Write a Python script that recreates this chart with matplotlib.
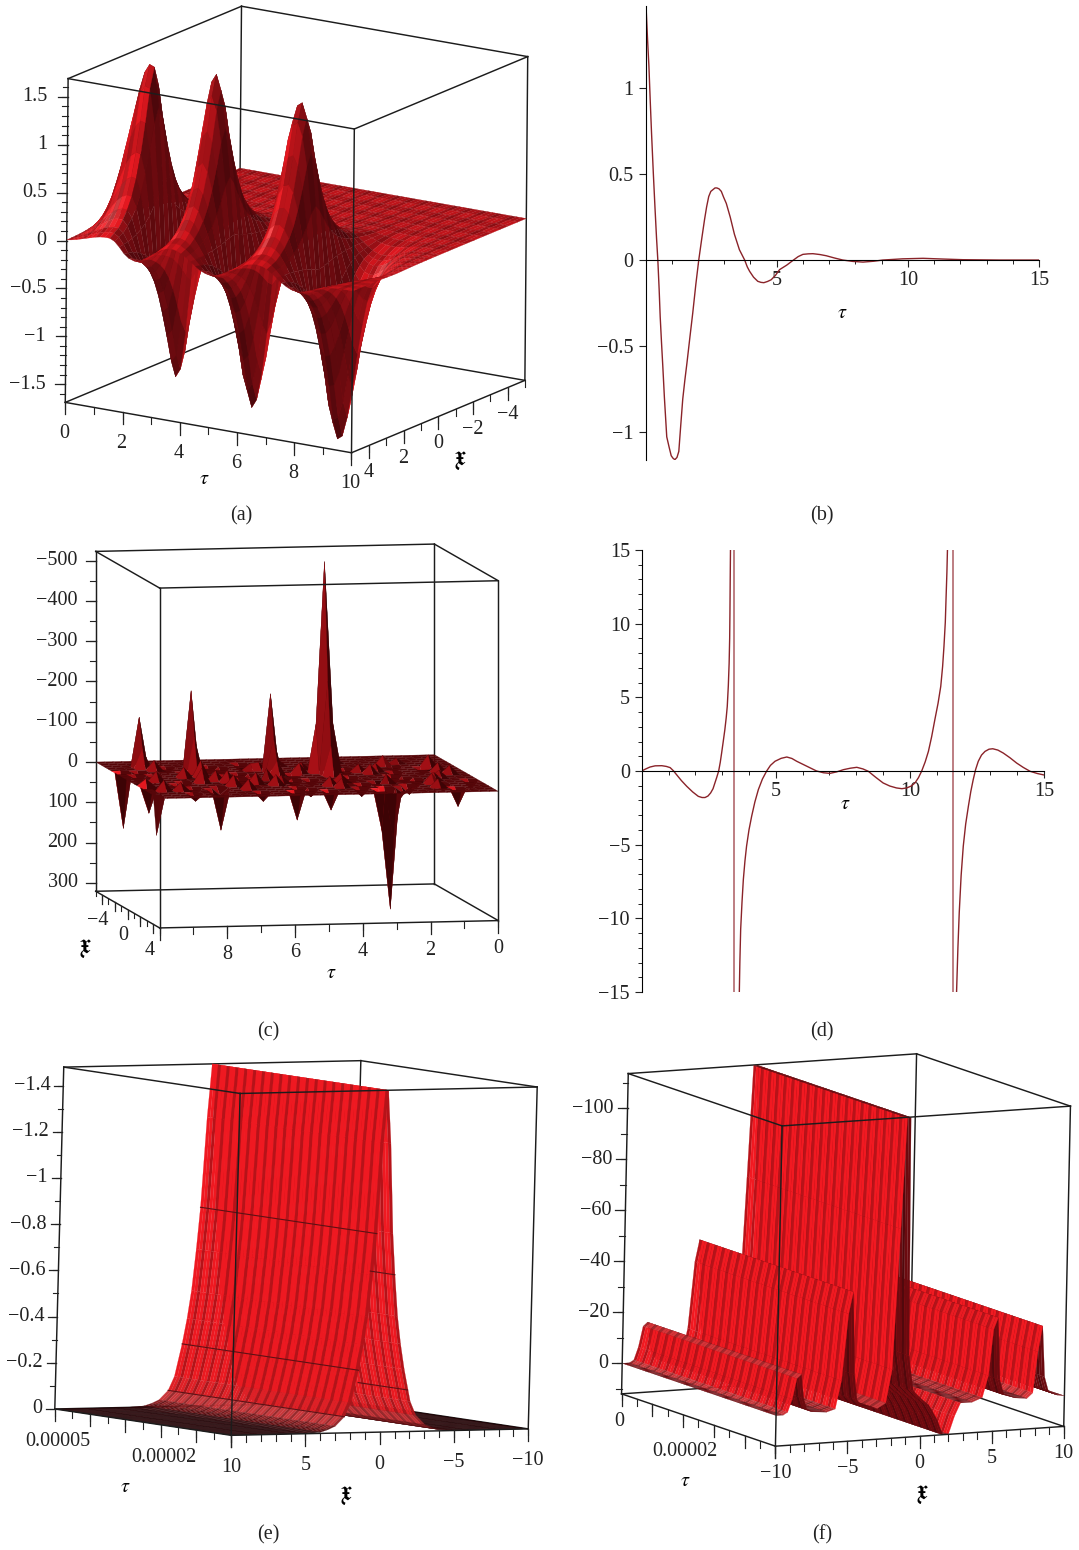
# -*- coding: utf-8 -*-
import numpy as np
import matplotlib
matplotlib.use("Agg")
import matplotlib.pyplot as plt
from mpl_toolkits.mplot3d import proj3d

plt.rcParams['font.family'] = ['Liberation Serif', 'DejaVu Serif']
plt.rcParams['mathtext.fontset'] = 'stix'

W, H = 1079, 1550
RED = np.array([0.95, 0.10, 0.13])
PINK = np.array([1.0, 0.50, 0.50])
CURVE = '#8a2329'
FS = 14.5

# (a) wave height along tau at the ridge (steps of 1/6), falloff across x
a_wave = np.array([.1, .25, .45, .7, .95, 1.2, 1.45, 1.63, 1.72, 1.7, 1.3, .45, -.55, -1.2, -1.49, -1.4, -1.0, -.45,
                   .15, .75, 1.3, 1.65, 1.74, 1.58, 1.2, .7, .1, -.55, -1.15, -1.5, -1.67, -1.58, -1.3, -.87, -.35, .15,
                   .65, 1.05, 1.38, 1.56, 1.6, 1.45, 1.1, .55, -.1, -.75, -1.3, -1.68, -1.84, -1.8, -1.6, -1.28, -.92,
                   -.6, -.35, -.2, -.12, -.07, -.04, -.02, -.01])
a_tau = np.arange(len(a_wave)) / 6
a_x = np.array([-5, -4.5, -4, -3.5, -3, -2.5, -2, -1.5, -1, -.5, 0, .25, .5, .75, 1, 1.25, 1.5, 1.75, 2, 2.25, 2.5,
                2.75, 3, 3.25, 3.5, 3.75, 4, 4.25, 4.5, 4.75, 5])
a_fall = np.array([0, 0, 0, 0, 0, .002, .004, .008, .015, .03, .06, .08, .1, .14, .19, .26, .36, .5, .68, .88, 1,
                   .88, .68, .5, .36, .26, .19, .14, .1, .08, .06])

# (b) curve
b_tau = [.02, .08, .13, .18, .23, .3, .36, .42, .47, .52, .56, .61, .66, .72, .81, .9, .98, 1.05, 1.12, 1.2, 1.27, 1.34,
         1.42, 1.5, 1.58, 1.7, 1.8, 1.92, 2.03, 2.14, 2.25, 2.33, 2.41, 2.49, 2.57, 2.65, 2.72, 2.8, 2.89, 2.98, 3.08,
         3.23, 3.39, 3.58, 3.78, 3.88, 3.97, 4.12, 4.28, 4.4, 4.51, 4.65, 4.79, 4.95, 5.11, 5.38, 5.64, 5.82, 6, 6.2,
         6.38, 6.65, 6.89, 7.2, 7.52, 7.9, 8.29, 8.7, 9.05, 9.8, 10.58, 11.3, 12.1, 13.5, 15]
b_val = [1.48, 1.28, 1.13, .93, .74, .5, .31, .13, 0, -.17, -.33, -.48, -.62, -.8, -1.03, -1.09, -1.14, -1.155, -1.163,
         -1.15, -1.115, -.97, -.81, -.7, -.6, -.44, -.31, -.14, 0, .12, .235, .31, .37, .4, .41, .42, .42, .415, .4,
         .365, .33, .25, .15, .06, 0, -.04, -.066, -.1, -.124, -.13, -.132, -.125, -.115, -.09, -.056, -.03, 0, .02,
         .033, .036, .037, .032, .025, .012, 0, -.008, -.012, -.007, 0, .007, .01, .006, .002, 0, 0]

# (c) spikes on a flat sheet: tau, x, value
c_tau = [9.1, 7.83, 5.5, 4, 4, 4, 3.75, 4.25, 9.7, 9.82, 9.94, 8.66, 7.95, 6.65, 5.74, 4.77, 3.06, 2.67, 1.05, 3.35,
         7.75, 7.75, 5.5, 5.5, 9, 3, 3, 3.25]
c_x = [-3.5, -2, -1.5, -1, -.5, 0, -1, -1, -2, 2, 4.5, 4, 4, 4, 4, 4, 4, 4, 4, 4, -1.5, -.5, -1, -.5, -3, 4.5, 3.5, 4]
c_val = [-123, -200, -193, -523, -230, -75, -120, -120, 138, 64, 96, 18, 91, 22, 70, 47, 296, 27, 45, 45,
         -90, -40, -85, -35, -50, 120, 70, 100]
c_bump_tau = [.75, 1.5, 2, 2.5, 3, 3.5, 4.25, 4.75, 5, 5.5, 6, 6.5, 7, 7.5, 8, 8.5, 9, 9.5, 1, 2.25, 3.25, 4, 5.25,
              6.25, 7.25, 8.25, 9.25, 1.25, 2.75, 3.75, 5.75, 6.75, 7.75, 8.75, 1.75, 4.5, 6, 8,
              .5, 1, 1.5, 2, 2.5, 3, 3.5, 4.5, 5, 5.5, 6, 6.5, 7, 7.5, 8, 8.5, 9, 9.5, .25, .75, 1.25, 1.75, 2.25, 2.75,
              3.25, 4.75, 5.25, 5.75, 6.25, 6.75, 7.25, 7.75, 8.25, 8.75, 9.25, 9.75, 7, 8, 2, 3.5, 6, 1.5]
c_bump_x = [-2, -3, 1, -1, 2, -2.5, 3, 1, -3, .5, 2, -1, 3, -2, 1, 2.5, -1, 3, 1, 3, -3.5, 1.5, 3.5, -.5, 1, -3, .5,
            3, -.5, 3.5, -2, .5, 3, -2.5, 1.5, -2, -3.5, 3.5,
            0, -1.5, 2.5, -.5, 3.5, -1, .5, 2.5, -.5, 3, -2, 1.5, -.5, .5, -1.5, 1, 3, -1, 2, -.5, 1.5, -2, .5, 2,
            -1.5, -1, 1, 1.5, .5, -2.5, 2, 2.5, -.5, 1.5, -2, 1.5, -3, 3, -2.5, 2.5, .5, 3.5]
c_bump_val = [-28, -12, 15, -20, 14, -18, -22, 16, -14, 20, -25, 18, -24, 16, -35, 18, 20, -26, -18, 22, -14, -20,
              18, 15, -28, 14, -25, 16, -22, 20, -18, 22, 16, -24, 20, -16, 18, 24,
              -20, 16, -24, 20, 16, -18, 22, -22, 18, 24, -16, -26, 20, -24, 16, 22, -20, 18, 20, -22, -18, 16, 24, -20,
              18, -24, 22, -18, 20, 16, -26, 18, -24, 22, 20, -16, 18, 20, -24, 22, -26, -20]

# (d) three branches, poles as extra lines
d_tau1 = [0, .15, .31, .5, .75, .92, 1.06, 1.18, 1.3, 1.48, 1.68, 1.9, 2.11, 2.25, 2.36, 2.47, 2.57, 2.66, 2.73, 2.8,
          2.87, 2.93, 2.98, 3.04, 3.1, 3.15, 3.19, 3.23, 3.26, 3.28, 3.29, 3.3, 3.31]
d_val1 = [0, .14, .27, .35, .36, .31, .23, .02, -.25, -.65, -1.04, -1.42, -1.72, -1.8, -1.8, -1.7, -1.49, -1.2, -.81,
          -.42, 0, .6, 1.22, 2, 2.8, 3.6, 4.38, 5.8, 7.32, 9, 10.7, 13, 15]
d_tau2 = [3.64, 3.66, 3.69, 3.74, 3.79, 3.85, 3.91, 4, 4.1, 4.22, 4.35, 4.5, 4.66, 4.8, 4.97, 5.2, 5.41, 5.6, 5.78, 6.15,
          6.52, 6.78, 7.02, 7.27, 7.52, 7.78, 8.02, 8.25, 8.45, 8.72, 9.0, 9.25, 9.5, 9.7, 9.88, 10.05, 10.19, 10.32,
          10.44, 10.57, 10.69, 10.81, 10.93, 11.05, 11.15, 11.22, 11.27, 11.32, 11.35, 11.38, 11.4]
d_val2 = [-15, -13, -10.75, -8.9, -7.36, -6.1, -5.1, -4, -3.07, -2.1, -1.26, -.55, 0, .38, .66, .86, .95, .85, .66, .33,
          0, -.12, -.16, -.06, .09, .19, .25, .14, -.02, -.42, -.81, -1.02, -1.15, -1.2, -1.15, -1.02, -.81, -.45,
          0, .62, 1.33, 2.32, 3.48, 4.6, 5.74, 7.1, 8.45, 10.1, 11.84, 13.5, 15]
d_tau3 = [11.74, 11.79, 11.84, 11.91, 11.99, 12.08, 12.18, 12.27, 12.36, 12.45, 12.55, 12.67, 12.8, 12.95, 13.09, 13.28,
          13.48, 13.73, 13.98, 14.23, 14.48, 14.75, 15]
d_val3 = [-15, -12, -9.6, -7.1, -5.1, -3.6, -2.4, -1.4, -.59, .1, .66, 1.08, 1.33, 1.48, 1.51, 1.42, 1.22, .9, .54,
          .24, -.02, -.17, -.27]
d_poles = [3.43, 11.59]

# (e) ridge profile across x
e_x = np.array([-10, -8, -6, -5, -4, -3.5, -3, -2.4, -2, -1.54, -1.25, -1, -.75, -.54, -.25, 0,
                .25, .54, .75, 1, 1.25, 1.54, 2, 2.4, 3, 3.5, 4, 5, 6, 8, 10])
e_val = np.array([0, 0, -.0005, -.001, -.005, -.015, -.03, -.07, -.13, -.27, -.38, -.5, -.68, -.86, -1.25, -1.48,
                  -1.25, -.86, -.68, -.5, -.38, -.27, -.13, -.07, -.03, -.015, -.005, -.001, -.0005, 0, 0])
# constant x lines: x, value, last tau
e_line_x = [.54, 1.54, 2.4, -.75, -1.8]
e_line_val = [-.86, -.27, -.07, -.68, -.18]
e_line_end = [5e-5, 5e-5, 5e-5, 7e-6, 1.4e-5]

# (f) profile across x
f_x = np.array([-10, -9.5, -9.2, -8.9, -8.6, -8.3, -8.1, -7.9, -7.5, -6.5, -5.9, -5.5, -5.1, -4.8, -4.6, -4.4, -4.0, -3,
                -2.4, -2, -1.6, -1.3, -1.05, -.85, -.5, 0, .6, 1.2, 1.6, 2, 2.4, 2.8, 3.6, 4.3, 4.7, 5, 5.3, 5.5, 5.8, 6.6,
                7.4, 7.8, 8.1, 8.4, 8.6, 8.9, 9.5, 10])
f_val = np.array([0, 0, -1, -6, -14, -15.5, -6, -2, -.5, 0, -1, -12, -38, -46.5, -14, -4, -1, 0,
                  -2, -15, -70, -113.5, -113.5, -20, -6, -3, 0, 6, 12, 12, 5, 0, 0, -1.5, -10, -28, -32.5, -8, -2, -.5,
                  0, -2, -18, -28, -8, -2, -.5, 0])

captions = ['(a)', '(b)', '(c)', '(d)', '(e)', '(f)']
cap_x = [241, 822, 268, 822, 268, 822]
cap_y = [516, 516, 1032, 1032, 1535, 1535]


def place3d(fig, cx, cy, lengths, elev, azim, roll, limits):
    ax = fig.add_axes([0, 0, 1, 1], projection='3d', computed_zorder=False, proj_type='ortho')
    ax.set_box_aspect(lengths)
    ax.view_init(elev=elev, azim=azim, roll=roll)
    side = 1.85 * np.linalg.norm(lengths) / 1.9057
    ax.set_position([(cx - .95 / 1.85 * side) / W, (H - cy - .95 / 1.85 * side) / H, side / W, side / H])
    ax.set_axis_off()
    ax.patch.set_alpha(0)
    ax.set_xlim(*limits[0])
    ax.set_ylim(*limits[1])
    ax.set_zlim(*limits[2])
    return ax


def colours(xs, ys, height, lengths, limits, light, dark, spec=None, two_sided=False):
    # one colour per mesh cell, from the slope of that cell in pixel units
    sx = lengths[0] / abs(limits[0][1] - limits[0][0])
    sy = lengths[1] / abs(limits[1][1] - limits[1][0])
    sz = lengths[2] / abs(limits[2][1] - limits[2][0])
    h = height * sz
    gx = np.diff(h, axis=1) / (np.diff(xs) * sx)
    gy = np.diff(h, axis=0) / (np.diff(ys)[:, None] * sy)
    gx = np.hstack([gx, gx[:, -1:]])
    gy = np.vstack([gy, gy[-1:]])
    norm = np.sqrt(gx ** 2 + gy ** 2 + 1)

    def dot(az, el):
        az, el = np.deg2rad(az), np.deg2rad(el)
        hor = (-gx * np.cos(az) - gy * np.sin(az)) * np.cos(el)
        if two_sided:
            hor = abs(hor)
        return (hor + np.sin(el)) / norm

    val = np.clip(dot(*light), 0, 1)[..., None]
    col = np.array(dark) + (RED - np.array(dark)) * val
    if spec is not None:
        hl = np.clip(dot(spec[0], spec[1]), 0, 1)[..., None] ** spec[2]
        col = col + (PINK - col) * hl * spec[3]
    return col


def box(ax, limits, near):
    xs, ys, zs = limits
    z0, z1 = zs
    xn, yn = near
    xf = xs[0] if xn == xs[1] else xs[1]
    yf = ys[0] if yn == ys[1] else ys[1]
    kw = dict(color='#1c1c1c', lw=1.05)
    for z in (z0, z1):
        ax.plot([xf, xn], [yn, yn], [z, z], zorder=6, **kw)
        ax.plot([xn, xn], [yf, yn], [z, z], zorder=6, **kw)
        ax.plot([xf, xf], [yf, yn], [z, z], zorder=0, **kw)
        ax.plot([xf, xn], [yf, yf], [z, z], zorder=0, **kw)
    ax.plot([xn, xn], [yn, yn], [z0, z1], zorder=6, **kw)
    ax.plot([xf, xf], [yf, yf], [z0, z1], zorder=0, **kw)
    ax.plot([xf, xf], [yn, yn], [z0, z1], zorder=0, **kw)
    ax.plot([xn, xn], [yf, yf], [z0, z1], zorder=0, **kw)


def to_px(ax, x, y, z):
    ax.apply_aspect()
    xp, yp, _ = proj3d.proj_transform(x, y, z, ax.get_proj())
    d = ax.transData.transform((xp, yp))
    return d[0], H - d[1]


def ticks(ax, over, where, majors, minors, labels, vec, off, ha='center'):
    for v in minors:
        p = to_px(ax, *where(v))
        over.plot([p[0], p[0] + vec[0] * .55], [p[1], p[1] + vec[1] * .55], color='#222222', lw=.8)
    for v in majors:
        p = to_px(ax, *where(v))
        over.plot([p[0], p[0] + vec[0]], [p[1], p[1] + vec[1]], color='#222222', lw=.9)
    for v, s in labels:
        p = to_px(ax, *where(v))
        over.text(p[0] + off[0], p[1] + off[1], s, ha=ha, va='center', fontsize=FS, color='#222222')


fig = plt.figure(figsize=(W / 100, H / 100), dpi=100)
over = fig.add_axes([0, 0, 1, 1], zorder=20)
over.set_xlim(0, W)
over.set_ylim(H, 0)
over.set_axis_off()
over.patch.set_alpha(0)

FRAK = r'$\mathfrak{x}$'
TAU = r'$\tau$'
FRAK_FS = 21

# ---------- (a)
lim = ((-5, 5), (0, 10), (-1.69, 1.69))
ln = (326, 338, 336)
ax = place3d(fig, 296.5, 229.5, ln, 15.5, 32, -.5, lim)
Z = np.outer(a_wave, a_fall)
cols = colours(a_x, a_tau, Z, ln, lim, (-30, 38), (.42, .04, .06), spec=(-35, 40, 30, .55))
cols[::3, :] *= .82
cols[:, ::2] *= .88
X, Y = np.meshgrid(a_x, a_tau)
s = ax.plot_surface(X, Y, Z, facecolors=cols, rstride=1, cstride=1, shade=False, zorder=3)
s.set_linewidth(.2)
box(ax, lim, (5, 10))
ticks(ax, over, lambda v: (5, 0, v), np.arange(-1.5, 1.6, .5), np.arange(-1.6, 1.65, .1),
      [(-1.5, '−1.5'), (-1, '−1'), (-.5, '−0.5'), (0, '0'), (.5, '0.5'), (1, '1'), (1.5, '1.5')], (-10, 0), (-20, 0), 'right')
ticks(ax, over, lambda v: (5, v, -1.69), np.arange(0, 11, 2), np.arange(0, 11), [(v, str(v)) for v in range(0, 11, 2)], (0, 12), (-1, 31))
ticks(ax, over, lambda v: (v, 10, -1.69), np.arange(-4, 5, 2), np.arange(-5, 6), [(4, '4'), (2, '2'), (0, '0'), (-2, '−2'), (-4, '−4')], (0, 12), (0, 27))
over.text(204, 480, TAU, ha='center', va='center', fontsize=FS)
over.text(460, 459, FRAK, ha='center', va='center', fontsize=FRAK_FS)

# ---------- (b)
ab = fig.add_axes([645.5 / W, (H - 460) / H, 393.5 / W, 454 / H])
ab.set_xlim(0, 15)
ab.set_ylim(-1.165, 1.48)
ab.plot(b_tau, b_val, color=CURVE, lw=1.0)
ab.set_xticks([5, 10, 15])
ab.set_xticks(np.arange(1, 15), minor=True)
ab.set_yticks([-1, -.5, 0, .5, 1])
ab.set_yticklabels(['−1', '−0.5', '0', '0.5', '1'])
ab.text(7.5, -.31, TAU, ha='center', va='center', fontsize=FS)

# ---------- (d)
ad = fig.add_axes([641.7 / W, (H - 992) / H, 402.3 / W, 442 / H])
ad.set_xlim(0, 15)
ad.set_ylim(-15, 15)
ad.plot(d_tau1, d_val1, color=CURVE, lw=1.0)
ad.plot(d_tau2, d_val2, color=CURVE, lw=1.0)
ad.plot(d_tau3, d_val3, color=CURVE, lw=1.0)
for p in d_poles:
    ad.plot([p, p], [-15, 15], color='#b77478', lw=1.3)
ad.set_xticks([5, 10, 15])
ad.set_xticks(np.arange(1, 15), minor=True)
ad.set_yticks([-15, -10, -5, 0, 5, 10, 15])
ad.set_yticklabels(['−15', '−10', '−5', '0', '5', '10', '15'])
ad.set_yticks(np.arange(-15, 16), minor=True)
ad.text(7.58, -2.3, TAU, ha='center', va='center', fontsize=FS)

for a in (ab, ad):
    a.patch.set_alpha(0)
    a.spines['top'].set_visible(False)
    a.spines['right'].set_visible(False)
    a.spines['left'].set_position(('data', 0))
    a.spines['bottom'].set_position(('data', 0))
    a.tick_params(axis='both', which='major', length=5, width=.8, labelsize=FS, color='#222222', labelcolor='#222222')
    a.tick_params(axis='both', which='minor', length=3, width=.7, color='#222222')
    a.tick_params(axis='x', pad=3)

# ---------- (c)
lim = ((0, 10), (-5, 5), (321, -523))
ln = (345, 335, 342)
ax = place3d(fig, 297, 736, ln, 6.4, 79, 0, lim)
c_t = np.arange(0, 10.01, .25)
c_s = np.arange(-5, 5.01, .5)
Z = np.zeros((len(c_s), len(c_t)))
for t, x, v in zip(c_bump_tau, c_bump_x, c_bump_val):
    Z[np.argmin(abs(c_s - x)), np.argmin(abs(c_t - t))] = v
for t, x, v in zip(c_tau, c_x, c_val):
    Z[np.argmin(abs(c_s - x)), np.argmin(abs(c_t - t))] = v
cols = colours(c_t, c_s, -Z, ln, lim, (82, 8), (.24, .01, .02))
X, Y = np.meshgrid(c_t, c_s)
s = ax.plot_surface(X, Y, Z, facecolors=cols, rstride=1, cstride=1, shade=False, zorder=3)
s.set_linewidth(.2)
box(ax, lim, (0, 5))
ticks(ax, over, lambda v: (10, -5, v), np.arange(-500, 301, 100), np.arange(-500, 301, 50),
      [(v, ('−%d' % -v) if v < 0 else str(v)) for v in range(-500, 301, 100)], (-10, 0), (-18, 0), 'right')
ticks(ax, over, lambda v: (v, 5, 321), np.arange(0, 11, 2), np.arange(0, 11), [(v, str(v)) for v in (0, 2, 4, 6, 8)], (0, 12), (0, 28))
ticks(ax, over, lambda v: (10, v, 321), np.arange(-4, 5, 2), np.arange(-5, 6), [(-4, '−4'), (0, '0'), (4, '4')], (0, 9), (-4, 26))
over.text(331, 973, TAU, ha='center', va='center', fontsize=FS)
over.text(85, 947, FRAK, ha='center', va='center', fontsize=FRAK_FS)

# ---------- (e)
lim = ((0, 5e-5), (-10, 10), (0, -1.48))
ln = (334, 350, 343)
ax = place3d(fig, 296, 1248, ln, 4.4, 148, -1.5, lim)
e_t = np.linspace(0, 5e-5, 61)
Z = np.tile(e_val[:, None], (1, len(e_t)))
cols = colours(e_t, e_x, -Z, ln, lim, (100, 1), (.12, .0, .01), spec=(110, 50, 14, .5), two_sided=True)
cols[:, ::3] *= .76
X, Y = np.meshgrid(e_t, e_x)
s = ax.plot_surface(X, Y, Z, facecolors=cols, rstride=1, cstride=1, shade=False, zorder=3)
s.set_linewidth(.15)
for x, v, t in zip(e_line_x, e_line_val, e_line_end):
    ax.plot([0, t], [x, x], [v, v], color='#5e1014', lw=.8, zorder=4)
box(ax, lim, (0, 10))
ticks(ax, over, lambda v: (5e-5, 10, v), np.arange(-1.4, .01, .2), np.arange(-1.4, .01, .1),
      [(-1.4, '−1.4'), (-1.2, '−1.2'), (-1, '−1'), (-.8, '−0.8'), (-.6, '−0.6'), (-.4, '−0.4'), (-.2, '−0.2'), (0, '0')], (-9, 0), (-13, 0), 'right')
ticks(ax, over, lambda v: (v, 10, 0), np.arange(0, 5.1e-5, 1e-5), np.arange(0, 5.1e-5, 5e-6), [(5e-5, '0.00005'), (2e-5, '0.00002')], (0, 12), (3, 33))
ticks(ax, over, lambda v: (0, v, 0), np.arange(-10, 11, 5), np.arange(-10, 11), [(v, ('−%d' % -v) if v < 0 else str(v)) for v in range(-10, 11, 5)], (0, 12), (0, 32))
over.text(125, 1487, TAU, ha='center', va='center', fontsize=FS)
over.text(346, 1494, FRAK, ha='center', va='center', fontsize=FRAK_FS)

# ---------- (f)
lim = ((0, 5e-5), (-10, 10), (12, -113.7))
ln = (330, 326, 325)
ax = place3d(fig, 846, 1250, ln, 9.7, -28, -1.2, lim)
f_t = np.linspace(0, 5e-5, 61)
Z = np.tile(f_val[:, None], (1, len(f_t)))
cols = colours(f_t, f_x, -Z, ln, lim, (-85, 3), (.42, .04, .06), spec=(-85, 60, 12, .35))
cols[:, ::3] *= .76
X, Y = np.meshgrid(f_t, f_x)
s = ax.plot_surface(X, Y, Z, facecolors=cols, rstride=1, cstride=1, shade=False, zorder=3)
s.set_linewidth(.15)
box(ax, lim, (5e-5, -10))
ticks(ax, over, lambda v: (0, -10, v), np.arange(-100, 1, 20), np.arange(-110, 11, 10),
      [(v, ('−%d' % -v) if v < 0 else '0') for v in range(-100, 1, 20)], (-10, 0), (-14, 0), 'right')
ticks(ax, over, lambda v: (v, -10, 12), np.arange(0, 5.1e-5, 1e-5), np.arange(0, 5.1e-5, 5e-6), [(0, '0')], (0, 12), (-2, 28))
ticks(ax, over, lambda v: (v, -10, 12), [], [], [(2e-5, '0.00002')], (0, 12), (2, 37))
ticks(ax, over, lambda v: (5e-5, v, 12), np.arange(-10, 11, 5), np.arange(-10, 11), [(v, ('−%d' % -v) if v < 0 else str(v)) for v in range(-10, 11, 5)], (0, 12), (0, 27))
over.text(685, 1481, TAU, ha='center', va='center', fontsize=FS)
over.text(922, 1493, FRAK, ha='center', va='center', fontsize=FRAK_FS)

for c, x, y in zip(captions, cap_x, cap_y):
    over.text(x, y, c, ha='center', va='center', fontsize=FS, color='#222222')

fig.savefig('out.png', dpi=100)
